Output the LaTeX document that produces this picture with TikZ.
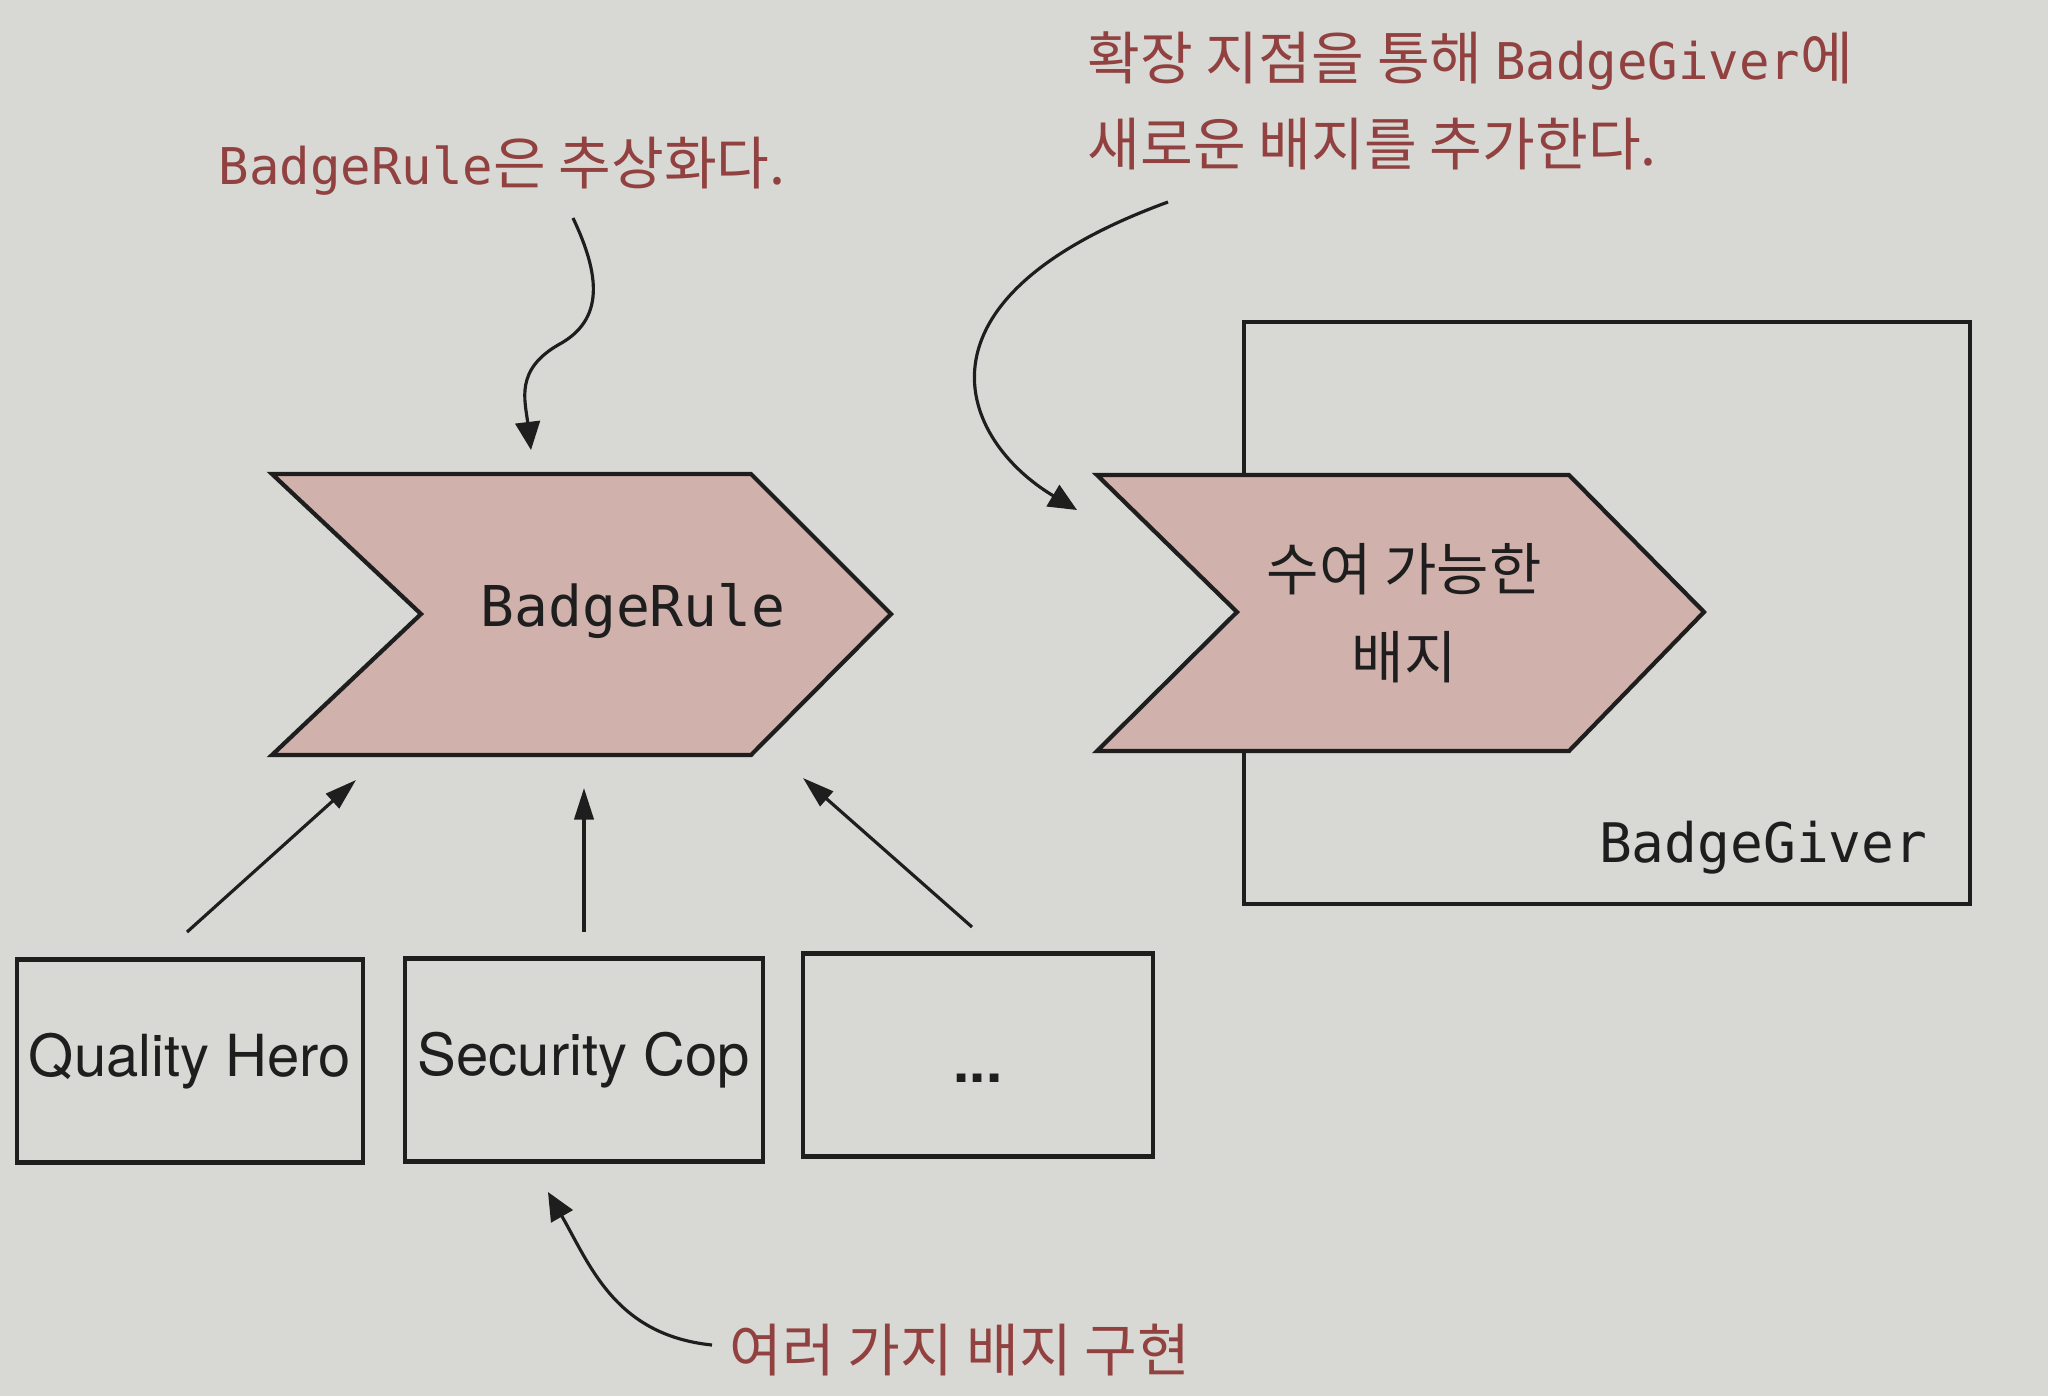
\documentclass[tikz,border=0pt]{standalone}
\usepackage{fontspec}
\newfontfamily\kr{Noto Sans CJK KR}
\newfontfamily\mono{DejaVu Sans Mono}
\newfontfamily\hv{TeX Gyre Heros}
\newcommand\koreannote{\kr\fontsize{16.3}{24.5}\selectfont}
\usetikzlibrary{arrows.meta}
\definecolor{bgc}{RGB}{216,216,212}
\definecolor{note}{RGB}{145,66,64}
\definecolor{chev}{RGB}{209,177,171}
\definecolor{ink}{RGB}{30,30,30}
\begin{document}
\begin{tikzpicture}[x=0.01cm,y=-0.01cm,
  chevron/.style={draw=ink, fill=chev, line width=1.2pt, line join=miter},
  boxstyle/.style={draw=ink, line width=1.2pt, inner sep=0pt},
  notetext/.style={text=note, inner sep=0pt, font=\fontsize{14.4}{24.5}\selectfont},
  arr/.style={draw=ink, line width=0.9pt, -{Triangle[length=9pt,width=5.5pt]}},
  curvearr/.style={draw=ink, line width=0.9pt, -{Triangle[length=8pt,width=7pt]}},
  boxtext/.style={font=\hv\fontsize{16.5}{19}\selectfont, text=ink},
]
\fill[bgc] (0,0) rectangle (2048,1396);
\useasboundingbox (0,0) rectangle (2048,1396);

% BadgeGiver frame
\node[boxstyle, minimum width=7.26cm, minimum height=5.81cm] (giver) at (1607,613) {};
\node[font=\mono\fontsize{15.5}{18}\selectfont, text=ink, anchor=east, inner sep=0pt] (giverlbl) at (1928,848) {BadgeGiver};

% chevrons
\draw[chevron] (272,474) -- (751,474) -- (891,614) -- (751,755) -- (272,755) -- (421,614) -- cycle;
\node[font=\mono\fontsize{16}{19}\selectfont, text=ink] (rule) at (633,611) {BadgeRule};

\draw[chevron] (1097,475) -- (1569,475) -- (1704,612) -- (1569,751) -- (1097,751) -- (1237,612) -- cycle;
\node[font=\kr\fontsize{16.2}{25}\selectfont, text=ink, align=center] (award) at (1404,613) {수여 가능한\\배지};

% implementation boxes
\node[boxstyle, minimum width=3.46cm, minimum height=2.03cm, boxtext] (qh) at (190,1061) {Quality Hero};
\node[boxstyle, minimum width=3.58cm, minimum height=2.03cm, boxtext] (sc) at (584,1060) {Security Cop};
\node[boxstyle, minimum width=3.50cm, minimum height=2.03cm,
      label={[boxtext, yshift=-0.23cm]center:\textbf{...}}] (more) at (978,1055) {};

% notes
\node[notetext, anchor=west] (n1) at (218,166) {{\mono BadgeRule}{\koreannote 은 추상화다.}};
\node[notetext, anchor=north west, align=left] (n2) at (1087,31) {{\koreannote 확장 지점을 통해 }{\mono BadgeGiver}{\koreannote 에}\\{\koreannote 새로운 배지를 추가한다.}};
\node[notetext, anchor=west] (n3) at (729,1350) {\koreannote 여러 가지 배지 구현};

% straight arrows
\coordinate (q1) at (187,932); \coordinate (q2) at (356,780);
\coordinate (s1) at (584,932); \coordinate (s2) at (584,788);
\coordinate (m1) at (972,927); \coordinate (m2) at (803,778);
\draw[arr] (q1) -- (q2);
\draw[arr] (s1) -- (s2);
\draw[arr] (m1) -- (m2);

% curved note arrows
\coordinate (c1s) at (573,218); \coordinate (c1e) at (531,450);
\draw[curvearr] (c1s) .. controls (600,275) and (605,320) .. (558,345) .. controls (515,370) and (525,400) .. (c1e);
\coordinate (c2s) at (1168,202); \coordinate (c2e) at (1077,510);
\draw[curvearr] (c2s) .. controls (900,300) and (960,440) .. (c2e);
\coordinate (c3s) at (712,1345); \coordinate (c3e) at (548,1192);
\draw[curvearr] (c3s) .. controls (615,1335) and (590,1265) .. (c3e);
\end{tikzpicture}
\end{document}
